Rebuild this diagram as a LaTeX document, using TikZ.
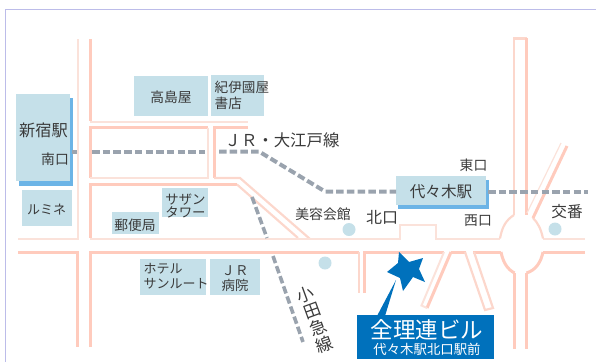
\documentclass[tikz,border=0pt]{standalone}
\usepackage{fontspec}
\setmainfont{Noto Sans CJK JP}
\definecolor{thickroad}{HTML}{FFCBBD}
\definecolor{thinroad}{HTML}{FBE2DA}
\definecolor{midroad}{HTML}{FCD7CC}
\definecolor{railgray}{HTML}{9AA3AE}
\definecolor{boxblue}{HTML}{C5E0E9}
\definecolor{shadowblue}{HTML}{6CB4E6}
\definecolor{markblue}{HTML}{0071BC}
\definecolor{inkgray}{HTML}{3A3A3A}
\tikzset{
  road/.style={draw=thickroad,line width=3pt},
  minor/.style={draw=thinroad,line width=2pt},
  midline/.style={draw=midroad,line width=2.2pt},
  rail/.style={draw=railgray,line width=4pt,dash pattern=on 7.5pt off 3.2pt},
  place/.style={fill=boxblue,draw=none},
  shadow/.style={fill=shadowblue,draw=none},
  spot/.style={circle,fill=boxblue,draw=none,minimum size=13pt,inner sep=0pt},
  lbl/.style={text=inkgray,inner sep=0pt,align=center,font=\fontsize{13.8}{15}\selectfont},
}
\begin{document}
\begin{tikzpicture}[x=1pt,y=-1pt]
\useasboundingbox (0,0) rectangle (596,362);
% frame
\draw[draw=gray!50!blue!35,line width=1pt] (5.5,362) -- (5.5,9.5) -- (596,9.5);

% shadows and boxes
\fill[shadow] (19,98) rectangle (72.5,186);
\fill[shadow] (398,180) rectangle (489,208.5);
\fill[place] (16,93.5) rectangle (69.5,181);
\fill[place] (22,190) rectangle (71.5,226);
\fill[place] (134,75.5) rectangle (207.5,116);
\fill[place] (210.5,75) rectangle (263.5,116);
\fill[place] (162,188) rectangle (207.5,217);
\fill[place] (112,212) rectangle (158.5,234);
\fill[place] (140,259) rectangle (206,295);
\fill[place] (209.5,259) rectangle (259.5,295);
\fill[place] (396,176) rectangle (486,205);

% roads: left side
\draw[minor] (77.5,39) -- (77.5,238.5) -- (18,238.5);
\draw[road] (18,252) -- (77.5,252) -- (77.5,347);
\draw[road] (90,39) -- (90,121);
\draw[minor] (90,121.5) -- (248,121.5);
\draw[road] (208,127.5) -- (90,127.5) -- (90,178);
\draw[minor] (208,127.5) -- (208,178) -- (90,178);
\draw[road] (248,127.5) -- (214,127.5) -- (214,178);
\draw[midline] (214,178) -- (240,178) -- (310,239);
\draw[road] (90,238) -- (90,184.5) -- (237,184.5);
\draw[midline] (237,184.5) -- (298,238);
\draw[road] (90,347) -- (90,252) -- (359,252);
% centre
\draw[minor] (90,239) -- (400,239) -- (400,225) -- (436,225) -- (436,239) -- (500,239);
\draw[midline] (359,252) -- (359,293);
\draw[road] (364,293) -- (364,252) -- (444,252);
\draw[road] (451,252) -- (466,252);
\draw[road] (473,252) -- (501,252);
\draw[road] (543,252) -- (585,252);
\draw[minor] (543,238.5) -- (585,238.5);
% diagonal side streets
\draw[road] (451,252) -- (427,308);
\draw[minor] (427,308) -- (421.5,305.5) -- (444,252);
\draw[midline] (465,252) -- (485,310) -- (493,308) -- (474,252);
% roundabout
\draw[midline] (500,238.5) .. controls (502,227) and (506,220) .. (514,215);
\draw[midline] (543,238.5) .. controls (541,229) and (538,223) .. (533,218);
\draw[road] (501,252) .. controls (503,262) and (507,269) .. (514.5,273);
\draw[road] (543,252) .. controls (541,262) and (536,270) .. (526.5,273);
% north-south road
\draw[midline] (514,215) -- (514,38.5) -- (526.5,38.5);
\draw[road] (526.5,38) -- (526.5,215);
\draw[road] (514.5,273) -- (514.5,349);
\draw[road] (526.5,273) -- (526.5,349);
% north-east diagonal
\draw[road] (567,146) -- (533,218);
\draw[minor,line width=1.2pt] (561,143) -- (527,213);

% rail lines
\draw[rail] (72,151.5) -- (77,151.5);
\draw[rail] (92,151.5) -- (205,151.5);
\draw[rail] (219,151.5) -- (259,151.5) -- (325,191.5) -- (396,191.5);
\draw[rail] (488,191.5) -- (588,191.5);
\draw[rail,line width=3.6pt] (252,197) -- (267,238);
\draw[rail,line width=3.6pt] (273,256) -- (303,342);

% spots
\node[spot] (spotA) at (349,229.5) {};
\node[spot] (spotB) at (325,263) {};
\node[spot] (spotC) at (555,229) {};

% labels
\node[lbl] (takashimaya) at (171,97) {高島屋};
\node[lbl,anchor=north west,font=\fontsize{13.6}{16}\selectfont,align=left] (kinokuniya) at (214.5,81) {紀伊國屋\\書店};
\node[lbl,font=\fontsize{16.2}{18}\selectfont] (shinjuku) at (43.5,130) {新宿駅};
\node[lbl] (minami) at (55,159.5) {南口};
\node[lbl,font=\fontsize{13}{15}\selectfont] (lumine) at (46.5,210) {ルミネ};
\node[lbl,font=\fontsize{13.4}{13}\selectfont] (southern) at (185.5,205.5) {サザン\\タワー};
\node[lbl,font=\fontsize{13.8}{15}\selectfont] (post) at (135,225) {郵便局};
\node[lbl,anchor=north west,font=\fontsize{13}{15}\selectfont,align=left] (hotel) at (143.5,263.5) {ホテル\\サンルート};
\node[lbl,font=\fontsize{13.4}{15}\selectfont] (hospital) at (235,278.5) {ＪＲ\\病院};
\node[lbl,font=\fontsize{16.4}{18}\selectfont] (oedo) at (282,140) {ＪＲ・大江戸線};
\node[lbl] (east) at (473.5,165) {東口};
\node[lbl,font=\fontsize{15.6}{18}\selectfont] (yoyogi) at (441,191.5) {代々木駅};
\node[lbl,font=\fontsize{13.8}{15}\selectfont] (salon) at (323,214) {美容会館};
\node[lbl,font=\fontsize{16}{18}\selectfont] (north) at (382,217) {北口};
\node[lbl] (west) at (478,221) {西口};
\node[lbl,font=\fontsize{15.6}{18}\selectfont] (koban) at (567,212) {交番};
\node[lbl,font=\fontsize{17}{18}\selectfont,rotate=20] (odakyu) at (315,319.5) {小\\田\\急\\線};

% building marker
\fill[markblue] (357,315) rectangle (494,359);
\fill[markblue] (396,280) -- (377,316) -- (385,316) -- cycle;
\fill[markblue] (399,252) -- (409,262) -- (423,258) -- (419,269) -- (425,282) -- (413,277) -- (403,291) -- (400,278) -- (387,272) -- (398,263) -- cycle;
\node[lbl,text=white,font=\fontsize{22.5}{24}\selectfont] (zenri) at (427,330) {全理連ビル};
\node[lbl,text=white,font=\fontsize{13.4}{15}\selectfont] (zenriSub) at (427,349.5) {代々木駅北口駅前};
\end{tikzpicture}
\end{document}
